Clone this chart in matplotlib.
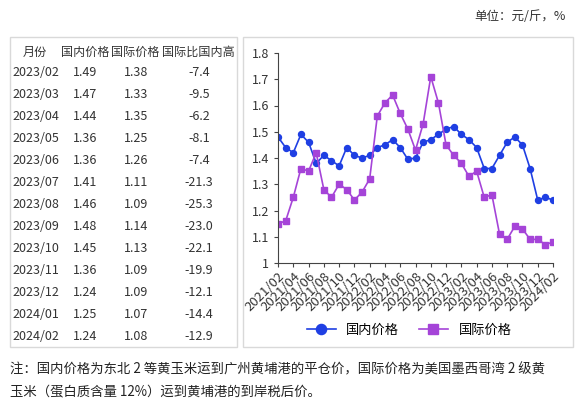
import numpy as np
import matplotlib
matplotlib.use("Agg")
import matplotlib.pyplot as plt
from matplotlib.patches import Rectangle
from matplotlib.ticker import FuncFormatter

plt.rcParams['font.family'] = ['Noto Sans CJK SC', 'DejaVu Sans']

# 月度数据 2021/02 - 2024/02
months = [f"{y}/{m:02d}" for y in (2021, 2022, 2023, 2024) for m in range(1, 13)][1:38]
domestic = [1.48, 1.44, 1.42, 1.49, 1.46, 1.38, 1.41, 1.39, 1.37, 1.44, 1.41, 1.40,
            1.41, 1.44, 1.45, 1.47, 1.44, 1.395, 1.40, 1.46, 1.47, 1.49, 1.51, 1.52,
            1.49, 1.47, 1.44, 1.36, 1.36, 1.41, 1.46, 1.48, 1.45, 1.36, 1.24, 1.25, 1.24]
intl = [1.15, 1.16, 1.25, 1.36, 1.35, 1.42, 1.28, 1.25, 1.30, 1.28, 1.24, 1.27,
        1.32, 1.56, 1.61, 1.64, 1.57, 1.51, 1.43, 1.53, 1.71, 1.61, 1.45, 1.41,
        1.38, 1.33, 1.35, 1.25, 1.26, 1.11, 1.09, 1.14, 1.13, 1.09, 1.09, 1.07, 1.08]

# 表格 (最近13个月)
tbl_months = months[24:]
tbl_dom = domestic[24:]
tbl_intl = intl[24:]
tbl_diff = [-7.4, -9.5, -6.2, -8.1, -7.4, -21.3, -25.3, -23.0, -22.1, -19.9, -12.1, -14.4, -12.9]
tbl_header = ["月份", "国内价格", "国际价格", "国际比国内高"]

BLUE = "#1f3fe3"
PURPLE = "#a544d8"
W, H = 583, 404

fig = plt.figure(figsize=(W / 100, H / 100), dpi=100)

def fx(px):
    return px / W

def fy(py):
    return 1 - py / H

# 外框
for x0, x1 in ((10, 237), (243, 573)):
    fig.patches.append(Rectangle((fx(x0), fy(347)), fx(x1 - x0), (347 - 37) / H,
                                 transform=fig.transFigure, fill=False,
                                 edgecolor="#d9d9d9", lw=1))

# 表格
col_x = [35, 85, 135, 198]
for cx, h in zip(col_x, tbl_header):
    fig.text(fx(cx), fy(52), h, ha="center", va="center", fontsize=8.7, color="#333333")
for i in range(len(tbl_months)):
    yy = fy(72.7 + i * 22)
    fig.text(fx(12), yy, tbl_months[i], ha="left", va="center", fontsize=9, color="#333333")
    fig.text(fx(col_x[1]), yy, f"{tbl_dom[i]:.2f}", ha="center", va="center", fontsize=9, color="#333333")
    fig.text(fx(col_x[2] + 1), yy, f"{tbl_intl[i]:.2f}", ha="center", va="center", fontsize=9, color="#333333")
    fig.text(fx(col_x[3] + 1), yy, f"{tbl_diff[i]:.1f}", ha="center", va="center", fontsize=9, color="#333333")

# 折线图
ax = fig.add_axes([fx(278), fy(263), fx(553 - 278), (263 - 53) / H])
x = np.arange(len(months))
ax.plot(x, domestic, color=BLUE, marker="o", ms=4.3, lw=1.2, label="国内价格")
ax.plot(x, intl, color=PURPLE, marker="s", ms=4.3, lw=1.2, label="国际价格")
ax.set_xlim(0, len(months) - 1)
ax.set_ylim(1, 1.8)
ax.set_yticks(np.arange(1, 1.81, 0.1))
ax.yaxis.set_major_formatter(FuncFormatter(lambda v, p: f"{v:g}"))
ax.set_xticks(x[::2])
ax.set_xticklabels(months[::2], rotation=45, ha="right", rotation_mode="anchor", fontsize=9.5, color="#333333")
ax.tick_params(axis="y", labelsize=9, labelcolor="#333333", length=3, color="#444444")
ax.tick_params(axis="x", length=3, color="#444444", pad=2)
for s in ("top", "right"):
    ax.spines[s].set_visible(False)
for s in ("left", "bottom"):
    ax.spines[s].set_color("#444444")
ax.legend(loc="center", bbox_to_anchor=(fx(409), fy(330)), bbox_transform=fig.transFigure,
          ncol=2, frameon=False, fontsize=9.5, markerscale=1.7, handlelength=2.2, columnspacing=1.5)

# 单位与注释
fig.text(fx(566), fy(17), "单位：元/斤，%", ha="right", va="center", fontsize=9, color="#333333")
fig.text(fx(10), fy(369), "注：国内价格为东北 2 等黄玉米运到广州黄埔港的平仓价，国际价格为美国墨西哥湾 2 级黄",
         ha="left", va="center", fontsize=9.6, color="#222222")
fig.text(fx(10), fy(391), "玉米（蛋白质含量 12%）运到黄埔港的到岸税后价。",
         ha="left", va="center", fontsize=9.6, color="#222222")

fig.savefig("out.png", dpi=100)
